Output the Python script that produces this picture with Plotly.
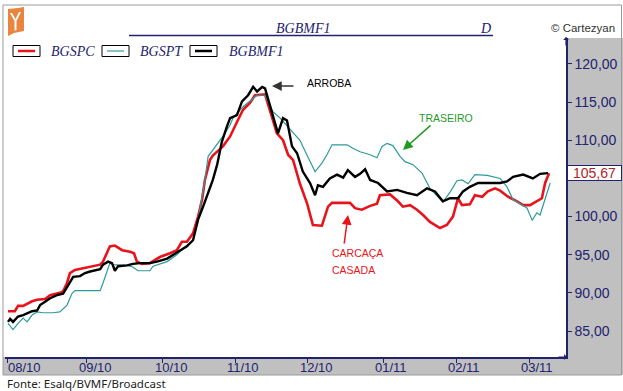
import plotly.graph_objects as go

# ---------------- data (x = trading-day index from 02/08/2010) ----------------
tick_days = [0, 21.9, 43.0, 63.1, 83.2, 104.25, 124.5, 144.75]
tick_labels = ["08/10", "09/10", "10/10", "11/10", "12/10", "01/11", "02/11", "03/11"]

bgspc_day = [0.0, 1.9, 2.8, 4.2, 6.7, 8.1, 10.3, 11.7, 14.4, 15.3, 16.4, 17.2, 18.6, 21.4, 23.3, 25.6,
             26.4, 28.3, 29.7, 31.7, 33.9, 35.0, 35.8, 37.2, 39.4, 40.8, 42.2, 45.0, 46.9, 48.3, 49.7,
             51.4, 52.8, 53.9, 54.7, 56.1, 56.9, 59.7, 61.7, 63.6, 65.3, 67.2, 68.6, 71.4, 72.8, 74.7,
             76.4, 77.8, 79.2, 81.1, 83.1, 84.7, 87.2, 88.9, 90.0, 95.0, 96.4, 98.3, 100.6, 102.5, 103.3,
             106.1, 108.1, 109.7, 111.7, 113.6, 115.3, 117.2, 120.0, 121.9, 123.6, 125.0, 126.1, 128.3,
             129.7, 131.7, 133.3, 135.3, 136.7, 138.9, 141.4, 143.1, 145.0, 146.9, 148.3, 149.2, 150.3]
bgspc_val = [87.6, 87.6, 88.3, 88.3, 88.9, 89.1, 89.2, 89.7, 90.0, 90.2, 91.3, 92.6, 93.0, 93.3, 93.5, 93.7,
             94.1, 96.1, 96.2, 95.6, 95.4, 95.2, 94.1, 93.8, 93.9, 94.3, 94.7, 95.2, 95.6, 96.7, 96.7,
             97.8, 100.0, 102.2, 104.8, 107.4, 108.0, 109.2, 110.5, 112.4, 114.0, 114.9, 115.9, 116.0, 113.9, 110.9,
             110.0, 108.1, 107.4, 104.3, 101.7, 98.9, 98.8, 101.3, 101.8, 101.8, 101.1, 100.9, 101.4, 101.7, 102.8,
             102.9, 102.1, 101.3, 101.5, 100.9, 100.2, 99.3, 98.5, 98.9, 100.0, 102.4, 101.5, 101.6,
             102.8, 102.6, 103.3, 103.7, 103.4, 102.6, 102.0, 101.5, 101.5, 102.0, 102.4, 104.4, 105.67]

bgspt_day = [0.0, 1.4, 2.8, 4.2, 5.3, 6.7, 8.1, 9.7, 12.5, 14.4, 16.4, 17.8, 18.6, 25.6, 26.4, 27.5, 28.3,
             29.2, 33.1, 34.7, 36.1, 39.4, 40.3, 44.2, 46.9, 48.6, 51.4, 52.8, 53.9, 54.7, 55.6, 56.9,
             58.1, 59.7, 61.7, 62.5, 65.3, 67.8, 69.2, 71.4, 72.8, 73.6, 75.6, 78.3, 81.1, 83.3, 85.3,
             87.2, 88.6, 90.0, 94.2, 95.8, 97.8, 100.6, 102.5, 103.9, 105.3, 106.9, 108.9, 110.3, 112.5,
             115.0, 117.2, 120.8, 122.8, 124.7, 126.1, 127.8, 129.7, 133.1, 136.7, 138.6, 140.3, 142.2,
             144.2, 145.6, 146.9, 147.8, 149.2, 150.6]
bgspt_val = [86.0, 85.2, 86.0, 86.7, 86.2, 87.1, 87.5, 87.4, 87.4, 87.5, 88.4, 89.95, 90.3, 90.3, 91.3, 93.0, 93.9,
             93.7, 93.6, 93.4, 92.9, 92.9, 93.5, 94.1, 95.0, 95.8, 96.9, 99.6, 102.6, 104.8, 107.9, 108.7,
             109.6, 110.5, 112.0, 112.9, 114.4, 115.3, 115.9, 115.9, 114.4, 113.75, 112.9, 111.5, 110.0, 107.8, 105.9,
             107.0, 108.1, 109.4, 109.4, 108.95, 108.5, 108.1, 107.7, 109.2, 109.6, 109.3, 107.9, 107.2, 106.8,
             105.7, 103.7, 101.9, 103.2, 104.7, 104.8, 104.3, 105.5, 105.4, 105.0, 103.9, 102.2, 101.7,
             101.1, 99.5, 100.5, 100.2, 102.4, 104.4]

bgbmf1_day = [0.0, 0.6, 1.4, 2.8, 4.2, 5.3, 6.7, 8.1, 8.9, 10.3, 11.7, 13.6, 15.3, 16.7, 18.1, 20.0, 21.4,
              22.8, 24.2, 25.6, 26.4, 27.8, 28.9, 29.7, 30.6, 33.1, 34.7, 36.7, 39.4, 41.4, 44.2, 46.9,
              49.7, 51.4, 52.8, 54.2, 55.6, 56.9, 58.1, 59.4, 60.8, 61.7, 63.6, 65.0, 66.7, 68.1, 69.2,
              70.6, 71.4, 72.8, 73.6, 75.0, 76.4, 77.5, 78.9, 80.3, 81.9, 83.9, 85.3, 86.1, 87.5, 89.4,
              91.4, 93.1, 94.4, 96.4, 97.8, 99.2, 100.6, 102.8, 105.3, 108.1, 110.8, 113.6, 116.4, 118.6,
              120.8, 122.8, 125.0, 126.4, 128.3, 130.6, 136.7, 138.6, 140.3, 143.1, 145.8, 147.8, 150.0]
bgbmf1_val = [86.2, 86.6, 86.2, 86.9, 87.1, 87.3, 87.6, 87.7, 88.4, 88.85, 89.3, 89.7, 89.9, 91.0, 92.1, 92.2, 92.6,
              92.8, 93.0, 93.1, 93.7, 94.1, 93.9, 92.9, 93.5, 93.6, 93.8, 93.9, 93.9, 94.1, 94.5, 95.3,
              96.1, 96.9, 99.6, 101.3, 103.1, 104.8, 106.8, 109.8, 111.8, 112.9, 113.3, 115.1, 115.9, 117.0, 116.4,
              117.0, 116.8, 114.4, 113.3, 110.9, 112.9, 112.6, 109.2, 108.3, 105.9, 104.4, 102.8, 104.1, 103.9, 105.0,
              105.5, 105.1, 106.1, 105.2, 105.6, 106.2, 104.8, 104.4, 103.3, 103.5, 103.1, 102.8, 103.7, 103.3,
              102.0, 102.4, 102.4, 103.3, 103.9, 104.4, 104.4, 104.6, 105.2, 105.5, 105.0, 105.6, 105.7]

y_ticks = [85, 90, 95, 100, 105, 110, 115, 120]
# the 105,00 label is hidden behind the last-value box in the original
y_tick_labels = ["85,00", "90,00", "95,00", "100,00", "", "110,00", "115,00", "120,00"]
last_value = bgspc_val[-1]

# ---------------- styling ----------------
NAVY = "#22226E"
RED = "#E8141B"
TEAL = "#2E9A9A"
GRAY_BAND = "#C0C0C0"
SANS = "Liberation Sans, Arial, sans-serif"
SERIF = "Liberation Serif, Times New Roman, serif"

W, H = 623, 391
L, R, T, B = 5, 566, 38, 357


def px(x):
    return (x - L) / (R - L)


def py(y):
    return (B - y) / (B - T)


fig = go.Figure()
fig.add_trace(go.Scatter(x=bgspc_day, y=bgspc_val, mode="lines", name="BGSPC",
                         line=dict(color=RED, width=2.6)))
fig.add_trace(go.Scatter(x=bgspt_day, y=bgspt_val, mode="lines", name="BGSPT",
                         line=dict(color=TEAL, width=1.2)))
fig.add_trace(go.Scatter(x=bgbmf1_day, y=bgbmf1_val, mode="lines", name="BGBMF1",
                         line=dict(color="black", width=2.4)))

shapes = []
# gray bands
shapes.append(dict(type="rect", xref="paper", yref="paper", x0=px(566), x1=px(623), y0=py(375), y1=py(38),
                   fillcolor=GRAY_BAND, line=dict(width=0), layer="below"))
shapes.append(dict(type="rect", xref="paper", yref="paper", x0=px(3), x1=px(623), y0=py(375), y1=py(357),
                   fillcolor=GRAY_BAND, line=dict(width=0), layer="below"))
# outer frame
shapes.append(dict(type="rect", xref="paper", yref="paper", x0=px(3), x1=px(621.5), y0=py(375), y1=py(5),
                   line=dict(color="#9A9A9A", width=1), fillcolor="rgba(0,0,0,0)"))
# title underline
shapes.append(dict(type="line", xref="paper", yref="paper", x0=px(129), x1=px(493), y0=py(35.5), y1=py(35.5),
                   line=dict(color=NAVY, width=1.3)))
# legend boxes
legend_items = [(13, 40, RED, 2.5, "BGSPC", 49), (102, 129, TEAL, 1.2, "BGSPT", 138),
                (190, 217, "black", 2.5, "BGBMF1", 227)]
for x0, x1, col, lw, name, tx in legend_items:
    shapes.append(dict(type="rect", xref="paper", yref="paper", x0=px(x0), x1=px(x1), y0=py(56.5), y1=py(45.5),
                       line=dict(color="black", width=1), fillcolor="white"))
    shapes.append(dict(type="line", xref="paper", yref="paper", x0=px(x0 + 5), x1=px(x1 - 5), y0=py(51), y1=py(51),
                       line=dict(color=col, width=lw)))


def poly(points):
    return "M " + " L ".join("%f,%f" % (px(a), py(b)) for a, b in points) + " Z"


# logo: orange book with a white "Y"
shapes.append(dict(type="path", xref="paper", yref="paper",
                   path=poly([(8, 9), (18, 8), (24, 7), (24, 31), (14, 33), (8, 36)]),
                   fillcolor="#E9853F", line=dict(width=0)))
shapes.append(dict(type="path", xref="paper", yref="paper",
                   path=poly([(10, 13), (12, 13), (15.5, 19), (19, 12), (21, 12), (16.5, 21), (16.5, 30),
                              (14.5, 30.5), (14.5, 21)]),
                   fillcolor="white", line=dict(width=0)))

annotations = []
# x tick labels (placed slightly left of their tick marks, as in the original)
for i, (d, lab) in enumerate(zip(tick_days, tick_labels)):
    annotations.append(dict(xref="x", yref="paper", x=d, y=py(367), text=lab, showarrow=False,
                            xanchor="left", yanchor="middle", xshift=-2 if i == 0 else -10,
                            font=dict(family=SANS, size=13, color=NAVY)))
for x0, x1, col, lw, name, tx in legend_items:
    annotations.append(dict(xref="paper", yref="paper", x=px(tx), y=py(51), xanchor="left", yanchor="middle",
                            text="<i>%s</i>" % name, showarrow=False,
                            font=dict(family=SERIF, size=14, color=NAVY)))
annotations += [
    dict(xref="paper", yref="paper", x=px(303), y=py(28), text="<i>BGBMF1</i>", showarrow=False,
         xanchor="center", yanchor="middle", font=dict(family=SERIF, size=14, color=NAVY)),
    dict(xref="paper", yref="paper", x=px(485), y=py(28), text="<i>D</i>", showarrow=False,
         xanchor="center", yanchor="middle", font=dict(family=SERIF, size=14, color=NAVY)),
    dict(xref="paper", yref="paper", x=px(617), y=py(28), text="© Cartezyan", showarrow=False,
         xanchor="right", yanchor="middle", font=dict(family=SANS, size=11.5, color="#333333")),
    dict(xref="paper", yref="paper", x=px(5), y=py(383), text="Fonte: Esalq/BVMF/Broadcast", showarrow=False,
         xanchor="left", yanchor="middle", font=dict(family="Noto Sans, DejaVu Sans, sans-serif", size=11.5,
                                                      color="#222222")),
    # last value box
    dict(xref="paper", yref="y", x=px(567), y=last_value, text=("%.2f" % last_value).replace(".", ","),
         showarrow=False, xanchor="left", yanchor="middle", bgcolor="white", bordercolor=NAVY, borderwidth=1,
         borderpad=0, width=53, height=14, font=dict(family=SANS, size=14, color="#B0232A")),
    # labels
    dict(xref="paper", yref="paper", x=px(305), y=py(83), text="ARROBA", showarrow=False,
         xanchor="left", yanchor="middle", font=dict(family=SANS, size=10.5, color="black")),
    dict(xref="paper", yref="paper", x=px(417), y=py(118), text="TRASEIRO", showarrow=False,
         xanchor="left", yanchor="middle", font=dict(family=SANS, size=10.5, color="#1F9A1F")),
    dict(xref="paper", yref="paper", x=px(330), y=py(253), text="CARCAÇA", showarrow=False,
         xanchor="left", yanchor="middle", font=dict(family=SANS, size=10.5, color="#E8141B")),
    dict(xref="paper", yref="paper", x=px(330), y=py(270), text="CASADA", showarrow=False,
         xanchor="left", yanchor="middle", font=dict(family=SANS, size=10.5, color="#E8141B")),
    # arrows
    dict(xref="paper", yref="paper", x=px(272), y=py(86), ax=23, ay=0, axref="pixel", ayref="pixel",
         text="", showarrow=True, arrowhead=2, arrowsize=1.3, arrowwidth=1.5, arrowcolor="#333333"),
    dict(xref="paper", yref="paper", x=px(403), y=py(150), ax=29, ay=-26, axref="pixel", ayref="pixel",
         text="", showarrow=True, arrowhead=2, arrowsize=1.3, arrowwidth=1.5, arrowcolor="#1F9A1F"),
    dict(xref="paper", yref="paper", x=px(348), y=py(215), ax=-4, ay=30, axref="pixel", ayref="pixel",
         text="", showarrow=True, arrowhead=2, arrowsize=1.3, arrowwidth=1.5, arrowcolor="#E8141B"),
    # axis arrows
    dict(xref="paper", yref="paper", x=1.0, y=py(37), ax=0, ay=10, axref="pixel", ayref="pixel",
         text="", showarrow=True, arrowhead=1, arrowsize=0.8, arrowwidth=1.2, arrowcolor=NAVY),
    dict(xref="paper", yref="paper", x=px(567), y=0.0, ax=-10, ay=0, axref="pixel", ayref="pixel",
         text="", showarrow=True, arrowhead=1, arrowsize=0.8, arrowwidth=1.2, arrowcolor=NAVY),
]

fig.update_layout(
    width=W, height=H,
    margin=dict(l=L, r=W - R, t=T, b=H - B, pad=0),
    paper_bgcolor="white", plot_bgcolor="white",
    showlegend=False,
    shapes=shapes,
    annotations=annotations,
    xaxis=dict(range=[-0.83, 155.0], tickmode="array", tickvals=tick_days, showticklabels=False,
               ticks="outside", ticklen=4, tickcolor=NAVY, showline=True, linecolor=NAVY, linewidth=1.5,
               showgrid=False, zeroline=False, automargin=False),
    yaxis=dict(side="right", range=[81.6, 123.4], tickmode="array", tickvals=y_ticks, ticktext=y_tick_labels,
               ticks="outside", ticklen=4, tickcolor=NAVY, showline=True, linecolor=NAVY, linewidth=1.5,
               showgrid=False, zeroline=False, automargin=False,
               tickfont=dict(family=SANS, size=14, color=NAVY)),
)

fig.write_html("out.html", config={"displayModeBar": False},
               post_script="document.body.style.margin='0';document.body.style.overflow='hidden';")
